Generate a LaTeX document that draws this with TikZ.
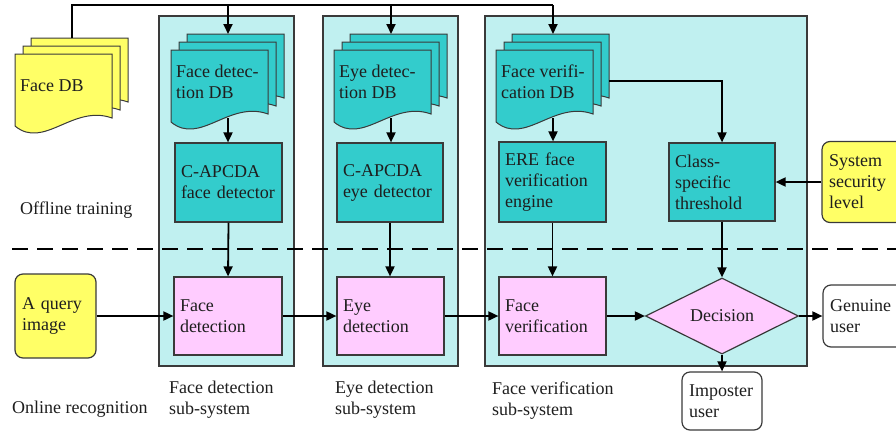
\documentclass[tikz,border=0pt]{standalone}
\usepackage{fontspec}
\setmainfont{Liberation Serif}
\usetikzlibrary{arrows.meta,shapes.geometric}

\definecolor{panelfill}{HTML}{C0F0F0}
\definecolor{tealfill}{HTML}{33CCCC}
\definecolor{pinkfill}{HTML}{FFCCFF}
\definecolor{yellowfill}{HTML}{FFFF66}
\definecolor{edge}{HTML}{3A3A3A}
\definecolor{ink}{HTML}{1E1E1E}

% one sheet of a document stack: x, y (top left), fill
\newcommand{\docsheet}[3]{%
  \filldraw[fill=#3, draw=edge, line width=1pt]
    (#1,#2) -- (#1+97,#2) -- (#1+97,#2+64)
    .. controls (#1+58,#2+50) and (#1+29,#2+96) .. (#1,#2+72) -- cycle;}

% stack of three sheets: name, x, y of the front sheet, fill, text
\newcommand{\multidoc}[5]{%
  \docsheet{#2+16}{#3-16}{#4}
  \docsheet{#2+8}{#3-8}{#4}
  \docsheet{#2}{#3}{#4}
  \node[doctext] (#1) at (#2+5,#3+32) {#5};
  \coordinate (#1-in) at (#2+57,#3-16);
  \coordinate (#1-out) at (#2+57,#3+68);
  \coordinate (#1-side) at (#2+113,#3+31);}

\begin{document}
\begin{tikzpicture}[x=1pt,y=-1pt,
  font=\fontsize{18}{21}\selectfont, text=ink,
  panel/.style={draw=edge, line width=1.3pt, fill=panelfill, inner sep=0pt},
  box/.style={rectangle, draw=edge, line width=1.2pt, inner xsep=6pt,
    inner ysep=0pt, align=left},
  tealbox/.style={box, fill=tealfill},
  pinkbox/.style={box, fill=pinkfill},
  roundbox/.style={box, rounded corners=8pt, inner xsep=7pt},
  doctext/.style={anchor=west, align=left, inner sep=0pt},
  label/.style={anchor=west, align=left, inner sep=0pt},
  link/.style={draw=black, line width=1.8pt},
  arr/.style={link, -{Triangle[length=10pt,width=9pt]}},
  divider/.style={draw=black, line width=2pt, dash pattern=on 16pt off 9pt}]

\useasboundingbox (0,0) rectangle (896,434);
\clip (0,0) rectangle (896,434);

% sub-system panels
\node[panel, minimum width=135pt, minimum height=350pt] (p1) at (226.5,191) {};
\node[panel, minimum width=135pt, minimum height=350pt] (p2) at (390.5,191) {};
\node[panel, minimum width=322pt, minimum height=350pt] (p3) at (646,191) {};

% document stacks
\multidoc{facedb}{15}{54}{yellowfill}{Face DB}
\multidoc{fddb}{171}{50}{tealfill}{Face detec-\\tion DB}
\multidoc{eddb}{334}{50}{tealfill}{Eye detec-\\tion DB}
\multidoc{fvdb}{496}{50}{tealfill}{Face verifi-\\cation DB}

% offline training blocks
\node[tealbox, minimum width=107pt, minimum height=79pt, text width=95pt] (cfd) at (228.5,182.5) {C-APCDA\\face detector};
\node[tealbox, minimum width=106pt, minimum height=79pt, text width=94pt] (ced) at (390,182.5) {C-APCDA\\eye detector};
\node[tealbox, minimum width=107pt, minimum height=80pt, text width=95pt] (ere) at (552.5,182) {ERE face\\verification\\engine};
\node[tealbox, minimum width=106pt, minimum height=78pt, text width=94pt] (cst) at (722,182) {Class-\\specific\\threshold};
\node[roundbox, fill=yellowfill, minimum width=84pt, minimum height=81pt, text width=70pt] (ssl) at (864,182) {System\\security\\level};

% online recognition blocks
\node[roundbox, fill=yellowfill, minimum width=81pt, minimum height=84pt, text width=67pt] (query) at (55.5,316) {A query\\image};
\node[pinkbox, minimum width=108pt, minimum height=78pt, text width=96pt] (fd) at (228,316) {Face\\detection};
\node[pinkbox, minimum width=107pt, minimum height=78pt, text width=95pt] (ed) at (390.5,316) {Eye\\detection};
\node[pinkbox, minimum width=107pt, minimum height=78pt, text width=95pt] (fv) at (552.5,316) {Face\\verification};
\node[diamond, draw=edge, line width=1.2pt, fill=pinkfill, minimum width=153pt, minimum height=68pt, inner sep=0pt] (dec) at (722,316) {Decision};
\node[roundbox, fill=white, minimum width=82pt, minimum height=62pt, text width=68pt] (gen) at (864,316) {Genuine\\user};
\node[roundbox, fill=white, minimum width=80pt, minimum height=58pt, text width=66pt] (imp) at (722,401) {Imposter\\user};

% labels
\node[label] (offline) at (20,210) {Offline training};
\node[label] (online) at (12,409) {Online recognition};
\node[label] (l1) at (169,400) {Face detection\\sub-system};
\node[label] (l2) at (335,400) {Eye detection\\sub-system};
\node[label] (l3) at (492,401) {Face verification\\sub-system};

% divider between offline and online stages
\coordinate (div-l) at (12,249);
\coordinate (div-r) at (896,249);
\draw[divider] (div-l) -- (div-r);

% training data bus
\coordinate (bus-l) at (72,5);
\coordinate (bus-r) at (553,5);
\draw[link] (facedb-in) -- (bus-l) -- (bus-r);
\draw[arr] (fddb-in |- bus-l) -- (fddb-in);
\draw[arr] (eddb-in |- bus-l) -- (eddb-in);
\draw[arr] (bus-r) -- (fvdb-in);

% training flow
\draw[arr] (fddb-out) -- (fddb-out |- cfd.north);
\draw[arr] (eddb-out) -- (eddb-out |- ced.north);
\draw[arr] (fvdb-out) -- (fvdb-out |- ere.north);
\draw[arr] (fvdb-side) -| (cst.north);
\draw[arr] (ssl.west) -- (cst.east);

% trained models feed the online stages
\draw[arr] (cfd.south) -- (fd.north);
\draw[arr] (ced.south) -- (ced.south |- ed.north);
\draw[arr] (ere.south) -- (fv.north);
\draw[arr] (cst.south) -- (dec.north);

% recognition flow
\draw[arr] (query.east) -- (fd.west);
\draw[arr] (fd.east) -- (ed.west);
\draw[arr] (ed.east) -- (fv.west);
\draw[arr] (fv.east) -- (dec.west);
\draw[arr] (dec.east) -- (gen.west);
\draw[arr] (dec.south) -- (imp.north);
\end{tikzpicture}
\end{document}
